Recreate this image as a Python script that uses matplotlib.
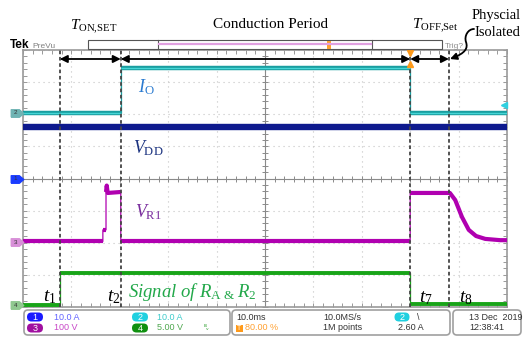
import numpy as np
import matplotlib.pyplot as plt
from matplotlib.patches import FancyBboxPatch, Rectangle, FancyArrowPatch
from matplotlib.path import Path

plt.rcParams['mathtext.fontset'] = 'custom'
plt.rcParams['mathtext.rm'] = 'Liberation Serif'
plt.rcParams['mathtext.it'] = 'Liberation Serif:italic'
plt.rcParams['mathtext.bf'] = 'Liberation Serif:bold'

# scope screen: 10 ms/div, 10 x 8 div, trace values in divisions
t_io = [-50, -29.8, -29.8, 30.0, 30.0, 50]
io = [2.04, 2.04, 3.45, 3.45, 2.04, 2.04]

t_vdd = [-50, 50]
vdd = [1.60, 1.60]

t_vr1 = [-50, -33.5, -33.5, -32.85, -32.85, -32.7, -32.5, -29.8, -29.8,
         30.0, 30.0, 38.2, 39.3, 40.7, 42.1, 43.6, 45.5, 48.6, 50]
vr1 = [-1.96, -1.96, -1.60, -1.60, -0.42, -0.22, -0.45, -0.42, -1.96,
       -1.96, -0.45, -0.45, -0.67, -1.20, -1.60, -1.79, -1.88, -1.92, -1.92]

t_sig = [-50, -42.4, -42.4, 30.0, 30.0, 50]
sig = [-3.93, -3.93, -2.94, -2.94, -3.90, -3.90]

t_marks = [-42.4, -29.8, 30.0, 38.0]
mark_labels = ['$t_1$', '$t_2$', '$t_7$', '$t_8$']

ch_names = ['2', '1', '3', '4']
ch_offsets = [2.04, 0.0, -1.98, -3.94]
ch_flag_colors = ['#6fb3b3', '#1a3cff', '#d890d8', '#90c890']
trig_level = 2.30

fig = plt.figure(figsize=(5.23, 3.39), dpi=100)
ax = fig.add_axes([23 / 523, 32 / 339, 484 / 523, 257 / 339], zorder=2)
ax.set_xlim(-50, 50)
ax.set_ylim(-4, 4)
ax.set_xticks(np.arange(-50, 51, 10))
ax.set_yticks(np.arange(-4, 5, 1))
ax.set_xticks(np.arange(-50, 51, 2), minor=True)
ax.set_yticks(np.arange(-4, 4.01, 0.2), minor=True)
ax.tick_params(which='both', direction='in', length=3, width=0.7, color='#999999',
               top=True, right=True, labelbottom=False, labelleft=False)
ax.grid(True, which='major', color='#c4c4c4', ls=(0, (1, 3.5)), lw=0.8)
ax.set_axisbelow(True)
for s in ax.spines.values():
    s.set_color('#9a9a9a')
    s.set_linewidth(1.2)

# center crosshair with small ticks
ax.axhline(0, color='#8a8a8a', lw=0.8, zorder=1)
ax.axvline(0, color='#8a8a8a', lw=0.8, zorder=1)
mx = np.arange(-50, 51, 2)
my = np.arange(-4, 4.01, 0.2)
ax.plot(mx, np.zeros_like(mx), ls='none', marker='|', ms=4, mew=0.7, color='#8a8a8a', zorder=1)
ax.plot(np.zeros_like(my), my, ls='none', marker='_', ms=4, mew=0.7, color='#8a8a8a', zorder=1)


def runs(t, v):
    out = []
    st, sv = [t[0]], [v[0]]
    for i in range(1, len(t)):
        if t[i] == t[i - 1]:
            out.append((st, sv))
            st, sv = [t[i]], [v[i]]
        else:
            st.append(t[i])
            sv.append(v[i])
    out.append((st, sv))
    return out


def trace(t, v, color, lw, hi=None):
    ax.plot(t, v, color=color, lw=0.9, zorder=3)
    for st, sv in runs(t, v):
        ax.plot(st, sv, color=color, lw=lw, solid_capstyle='butt', zorder=3)
        if hi:
            ax.plot(st, sv, color=hi, lw=lw * 0.3, solid_capstyle='butt', zorder=3)


trace(t_vdd, vdd, '#0e1a8e', 4.6)
trace(t_io, io, '#1a9ea0', 3.2, hi='#45d6d6')
trace(t_vr1, vr1, '#b000b0', 3.0)
trace(t_sig, sig, '#18a418', 2.8)

# cursor lines
for tm in t_marks:
    ax.axvline(tm, color='#454545', lw=1.3, ls=(0, (2, 1.5)), zorder=4)

# interval arrows
ya = 3.72
for a, b in zip(t_marks[:-1], t_marks[1:]):
    ax.annotate('', xy=(b, ya), xytext=(a, ya),
                arrowprops=dict(arrowstyle='<|-|>', color='k', lw=1.3,
                                mutation_scale=11, shrinkA=0, shrinkB=0), zorder=6)

# trigger position marker
ax.plot([t_marks[2]], [3.92], marker='v', ms=5, color='#ff9a1a', clip_on=False, zorder=7)
ax.plot([t_marks[2]], [3.55], marker='^', ms=4, color='#ff9a1a', clip_on=False, zorder=5)

# channel flags on the left, trigger level on the right
flag = [(-1, -0.6), (0.3, -0.6), (1, 0), (0.3, 0.6), (-1, 0.6), (-1, -0.6)]
for name, off, col in zip(ch_names, ch_offsets, ch_flag_colors):
    ax.plot([-51.3], [off], marker=flag, ms=9, color=col, clip_on=False, zorder=5)
    ax.text(-51.6, off, name, fontsize=4.5, color='#333333', ha='center', va='center',
            family='Liberation Sans', clip_on=False, zorder=6)
ax.plot([49.4], [trig_level], marker='<', ms=4.5, color='#30d0e0', clip_on=False, zorder=5)

# overlay in pixel coordinates for labels and the scope frame
ov = fig.add_axes([0, 0, 1, 1], zorder=3)
ov.set_xlim(0, 523)
ov.set_ylim(339, 0)
ov.axis('off')

serif = 'Liberation Serif'
sans = 'Liberation Sans'

ov.text(70, 30, r'$T_{\rm ON{,}SET}$', fontsize=11, ha='left', va='baseline')
ov.text(213, 28, 'Conduction Period', fontsize=11, family=serif, ha='left', va='baseline')
ov.text(412, 29, r'$T_{\rm OFF{,}Set}$', fontsize=11, ha='left', va='baseline')
ov.text(472, 19, 'Physcial', fontsize=10.5, family=serif, ha='left', va='baseline')
ov.text(474, 36, 'Isolated', fontsize=10.5, family=serif, ha='left', va='baseline')

verts = [(474, 29), (468, 29), (464, 36), (466, 42), (468, 48), (466, 53), (450, 59)]
codes = [Path.MOVETO] + [Path.CURVE4] * 6
ov.add_patch(FancyArrowPatch(path=Path(verts, codes), arrowstyle='-|>', mutation_scale=10,
                             color='k', lw=1.3))

# record bar
ov.text(10, 48, 'Tek', fontsize=8.5, family=sans, weight='bold', ha='left', va='baseline')
ov.text(32, 48, 'PreVu', fontsize=6, family=sans, color='#808080', ha='left', va='baseline')
ov.add_patch(Rectangle((88, 40), 354, 9, facecolor='white', edgecolor='#555555', lw=0.8))
ov.plot([158, 158], [40, 49], color='#555555', lw=0.8)
ov.plot([372, 372], [40, 49], color='#555555', lw=0.8)
ov.plot([159, 371], [43.5, 43.5], color='#e0a0e0', lw=1.6)
ov.add_patch(Rectangle((327, 40.5), 4, 8, facecolor='#ffa030', edgecolor='none'))
ov.text(445, 47.5, 'Trig?', fontsize=6, family=sans, color='#909090', ha='left', va='baseline')

ov.text(43, 301, mark_labels[0], fontsize=14, ha='left', va='baseline')
ov.text(107, 301, mark_labels[1], fontsize=14, ha='left', va='baseline')
ov.text(419, 302, mark_labels[2], fontsize=14, ha='left', va='baseline')
ov.text(459, 302, mark_labels[3], fontsize=14, ha='left', va='baseline')

ov.text(138, 92, r'$I_{\rm O}$', fontsize=13, color='#2b7bd0', ha='left', va='baseline')
ov.text(133, 153, r'$V_{\rm DD}$', fontsize=13, color='#1c3380', ha='left', va='baseline')
ov.text(135, 217, r'$V_{\rm R1}$', fontsize=13, color='#7a2e9e', ha='left', va='baseline')
ov.text(128, 297, r'$Signal\ of\ R_{\mathrm{A}\ &\ }R_2$', fontsize=13.5, color='#22a84a',
        ha='left', va='baseline')

# status bar
for x0, x1 in [(24, 230), (232, 450), (453, 521)]:
    ov.add_patch(FancyBboxPatch((x0, 310), x1 - x0, 25, boxstyle='round,pad=0,rounding_size=4',
                                facecolor='white', edgecolor='#a0a0a0', lw=1.2))


def badge(xc, yc, num, col, w=16):
    ov.add_patch(FancyBboxPatch((xc - w / 2, yc - 4.5), w, 9,
                                boxstyle='round,pad=0,rounding_size=4.5',
                                facecolor=col, edgecolor='none'))
    ov.text(xc, yc + 0.3, num, fontsize=6.5, family=sans, color='white', ha='center', va='center')


r1, r2 = 317, 328
badge(35, r1, '1', '#1a1aff')
badge(35, r2, '3', '#a010a0')
badge(140, r1, '2', '#20d0e0')
badge(140, r2, '4', '#109010')
st = dict(fontsize=6.5, family=sans, ha='left', va='center')
ov.text(54, r1, '10.0 A', color='#6464ff', **st)
ov.text(54, r2, '100 V', color='#c848c8', **st)
ov.text(157, r1, '10.0 A', color='#40cccc', **st)
ov.text(157, r2, '5.00 V', color='#50a850', **st)
ov.text(204, r2 + 0.5, 'ᴮᵥ', fontsize=5, family='DejaVu Sans', color='#30a030',
        ha='left', va='center')

ov.text(236, r1, '10.0ms', color='#333333', **st)
ov.add_patch(Rectangle((236, r2 - 3.5), 7, 7, facecolor='#ff9a1a', edgecolor='none'))
ov.text(239.5, r2, 'T', fontsize=5, family=sans, color='white', ha='center', va='center')
ov.text(245, r2, '80.00 %', color='#ffa030', **st)
ov.text(323, r1, '10.0MS/s', color='#333333', **st)
ov.text(323, r2, '1M points', color='#333333', **st)
badge(402, r1, '2', '#20d0e0', w=15)
ov.text(417, r1, '\\', color='#333333', **st)
ov.text(398, r2, '2.60 A', color='#333333', **st)
ov.text(469, r1, '13 Dec  2019', color='#333333', **st)
ov.text(469, r2, '12:38:41', color='#333333', **st)

fig.savefig('out.png', dpi=100)
